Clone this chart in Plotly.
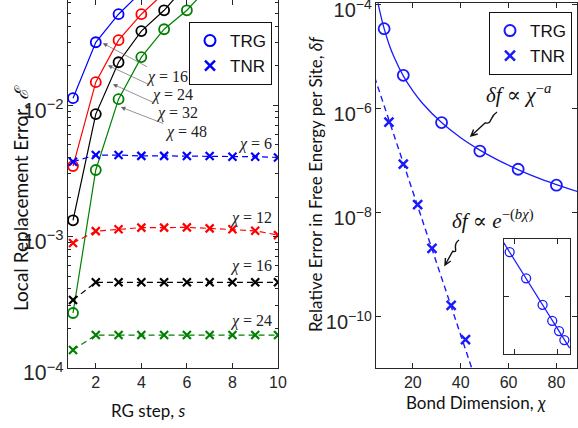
import math
import plotly.graph_objects as go

W, H = 578, 428

# ---------------- Left panel data: Local replacement error vs RG step ----------------
trg_colors = ["#0000ff", "#ff0000", "#000000", "#008000"]
trg_chi = [16, 24, 32, 48]
trg_steps = [[1, 2, 3, 4], [1, 2, 3, 4, 5], [1, 2, 3, 4, 5, 6], [1, 2, 3, 4, 5, 6, 7]]
trg_err = [
    [0.0113, 0.0301, 0.0492, 0.0727],
    [0.00344, 0.01496, 0.0312, 0.0492, 0.0713],
    [0.00133, 0.00855, 0.0212, 0.0366, 0.0527, 0.0826],
    [0.000262, 0.00321, 0.0111, 0.0232, 0.0378, 0.0527, 0.0809],
]
tnr_chi = [6, 12, 16, 24]
tnr_steps = list(range(1, 11))
tnr_err = [
    [0.00371, 0.00417, 0.00417, 0.00411, 0.00411, 0.0041, 0.0041, 0.00405, 0.00405, 0.0040],
    [0.000892, 0.0011, 0.001135, 0.00117, 0.00117, 0.001175, 0.001154, 0.001135, 0.001106, 0.001026],
    [0.000329, 0.000449, 0.000449, 0.000449, 0.000449, 0.000449, 0.000449, 0.000449, 0.000449, 0.000449],
    [0.000137, 0.000178, 0.000178, 0.000178, 0.000178, 0.000178, 0.000178, 0.000178, 0.000178, 0.000178],
]

# ---------------- Right panel data: relative free-energy error vs bond dimension ----------------
trg_bond = [8, 16, 32, 48, 64, 80]
trg_df = [3.4e-5, 4.3e-6, 5.3e-7, 1.5e-7, 6.7e-8, 3.3e-8]
trg_fit_bond = [5, 6, 8, 10, 12, 16, 20, 24, 32, 40, 48, 56, 64, 72, 80, 90, 100]
trg_fit_df = [1.38e-4, 8.0e-5, 3.4e-5, 1.73e-5, 1.0e-5, 4.2e-6, 2.16e-6, 1.25e-6, 5.3e-7,
              2.7e-7, 1.56e-7, 9.8e-8, 6.6e-8, 4.6e-8, 3.4e-8, 2.4e-8, 1.75e-8]
tnr_bond = [10, 16, 22, 28, 36, 42]
tnr_df = [5.4e-7, 8.4e-8, 1.4e-8, 2.0e-9, 1.6e-10, 3.5e-11]
tnr_fit_bond = [4, 10, 20, 30, 40, 46]
tnr_fit_df = [4.0e-6, 5.96e-7, 2.48e-8, 1.04e-9, 4.3e-11, 6.4e-12]

AX = "#262626"
TICKFONT = dict(family="Liberation Sans, Arial, sans-serif", size=16, color=AX)
TITLEFONT = dict(family="Lato, Open Sans, sans-serif", size=17, color="#111")
MATHFONT = "Liberation Serif, DejaVu Serif, serif"
BLUE2 = "#1a1aff"


def px(x):
    return x / W


def py(y):
    return 1 - y / H


fig = go.Figure()

# TRG lines (left)
for c, s, e in zip(trg_colors, trg_steps, trg_err):
    fig.add_trace(go.Scatter(x=s, y=e, mode="lines+markers", xaxis="x", yaxis="y",
                             line=dict(color=c, width=1.2),
                             marker=dict(symbol="circle-open", size=10, color=c, line=dict(width=1.8)),
                             showlegend=False))
# TNR lines (left)
for c, e in zip(trg_colors, tnr_err):
    fig.add_trace(go.Scatter(x=tnr_steps, y=e, mode="lines+markers", xaxis="x", yaxis="y",
                             line=dict(color=c, width=1.2, dash="6px,4px"),
                             marker=dict(symbol="x-thin-open", size=8, color=c, line=dict(width=2.2, color=c)),
                             showlegend=False))
# legend entries left
fig.add_trace(go.Scatter(x=[None], y=[None], mode="markers", name="TRG", xaxis="x", yaxis="y",
                         marker=dict(symbol="circle-open", size=11, color="#0000ff", line=dict(width=2)),
                         legend="legend"))
fig.add_trace(go.Scatter(x=[None], y=[None], mode="markers", name="TNR", xaxis="x", yaxis="y",
                         marker=dict(symbol="x-thin-open", size=10, color="#0000ff", line=dict(width=2.5, color="#0000ff")),
                         legend="legend"))

# Right panel
fig.add_trace(go.Scatter(x=trg_fit_bond, y=trg_fit_df, mode="lines", xaxis="x2", yaxis="y2",
                         line=dict(color=BLUE2, width=1.3, shape="spline"), showlegend=False))
fig.add_trace(go.Scatter(x=trg_bond, y=trg_df, mode="markers", xaxis="x2", yaxis="y2",
                         marker=dict(symbol="circle-open", size=11, color=BLUE2, line=dict(width=1.8)),
                         showlegend=False))
fig.add_trace(go.Scatter(x=tnr_fit_bond, y=tnr_fit_df, mode="lines", xaxis="x2", yaxis="y2",
                         line=dict(color=BLUE2, width=1.4, dash="6px,4px"), showlegend=False))
fig.add_trace(go.Scatter(x=tnr_bond, y=tnr_df, mode="markers", xaxis="x2", yaxis="y2",
                         marker=dict(symbol="x-thin-open", size=9, color=BLUE2, line=dict(width=2.5, color=BLUE2)),
                         showlegend=False))
fig.add_trace(go.Scatter(x=[None], y=[None], mode="markers", name="TRG", xaxis="x2", yaxis="y2",
                         marker=dict(symbol="circle-open", size=11, color=BLUE2, line=dict(width=2)),
                         legend="legend2"))
fig.add_trace(go.Scatter(x=[None], y=[None], mode="markers", name="TNR", xaxis="x2", yaxis="y2",
                         marker=dict(symbol="x-thin-open", size=10, color=BLUE2, line=dict(width=2.5, color=BLUE2)),
                         legend="legend2"))

# Inset (log-log of TRG)
fig.add_trace(go.Scatter(x=trg_fit_bond, y=trg_fit_df, mode="lines", xaxis="x3", yaxis="y3",
                         line=dict(color=BLUE2, width=1.2), showlegend=False))
fig.add_trace(go.Scatter(x=trg_bond, y=trg_df, mode="markers", xaxis="x3", yaxis="y3",
                         marker=dict(symbol="circle-open", size=9, color=BLUE2, line=dict(width=1.3)),
                         showlegend=False))

common = dict(showline=True, linecolor=AX, linewidth=1, mirror="ticks", ticks="inside",
              tickcolor=AX, ticklen=5, showgrid=False, zeroline=False, automargin=False,
              ticklabeloverflow="allow")
LEGFONT = dict(family="Liberation Sans, Arial", size=17, color="#111")

fig.update_layout(
    width=W, height=H, margin=dict(l=0, r=0, t=0, b=0),
    paper_bgcolor="white", plot_bgcolor="white",
    xaxis=dict(domain=[px(68), px(278)], range=[0.78, 10], tickvals=[2, 4, 6, 8, 10], anchor="y",
               tickfont=TICKFONT, **common),
    yaxis=dict(domain=[py(368), 1], type="log", range=[-4, -1.2], dtick=1, exponentformat="power",
               anchor="x", tickfont=dict(TICKFONT, size=17), ticklabelshift=5,
               minor=dict(ticks="inside", ticklen=3, tickcolor=AX, showgrid=False), **common),
    xaxis2=dict(domain=[px(376), px(577)], range=[4.6, 88.6], tickvals=[20, 40, 60, 80], anchor="y2",
                tickfont=TICKFONT, **common),
    yaxis2=dict(domain=[py(368), py(3.3)], type="log", range=[-11, -3.98], dtick=2, exponentformat="power",
                anchor="x2", tickfont=TICKFONT, ticklabelshift=6, **common),
    xaxis3=dict(domain=[px(504), px(570)], type="log", range=[0.8, 2.006], tickvals=[10, 60],
                showticklabels=False, anchor="y3", **common),
    yaxis3=dict(domain=[py(354), py(239)], type="log", range=[-7.96, -4.02], tickvals=[1e-6],
                showticklabels=False, anchor="x3", **common),
    legend=dict(x=px(189), y=py(22), xanchor="left", yanchor="top", bgcolor="white",
                bordercolor="#111", borderwidth=1, font=LEGFONT, itemwidth=30, tracegroupgap=0),
    legend2=dict(x=px(489), y=py(12), xanchor="left", yanchor="top", bgcolor="white",
                 bordercolor="#111", borderwidth=1, font=LEGFONT, itemwidth=30, tracegroupgap=0),
)

ann = []
# axis titles
ann.append(dict(text="Local Replacement Error, <span style='font-family:DejaVu Serif'><i>ℰ</i></span>",
                x=px(20), y=py(198), xref="paper", yref="paper",
                xanchor="center", yanchor="middle", textangle=-90, showarrow=False,
                font=dict(family="Lato, sans-serif", size=19, color="#111")))
ann.append(dict(text="RG step, <i>s</i>", x=px(148), y=py(410), xref="paper", yref="paper",
                xanchor="center", yanchor="middle", showarrow=False, font=TITLEFONT))
ann.append(dict(text="Relative Error in Free Energy per Site, <i>δf</i>", x=px(315), y=py(184), xref="paper",
                yref="paper", xanchor="center", yanchor="middle", textangle=-90, showarrow=False,
                font=dict(family="Lato, sans-serif", size=17, color="#111")))
ann.append(dict(text="Bond Dimension, <i>χ</i>", x=px(476), y=py(402), xref="paper", yref="paper",
                xanchor="center", yanchor="middle", showarrow=False, font=TITLEFONT))

# TRG labels with arrows (left): label text sits at the arrow tail, arrow points at the curve
trg_label_center = [(167, 77), (172, 95), (177, 113), (186, 132)]
trg_arrow_head = [(2.31, 0.0296), (2.53, 0.0201), (2.75, 0.01445), (3.1, 0.00966)]
for chi, (tx, ty), (hx, hy) in zip(trg_chi, trg_label_center, trg_arrow_head):
    hpx = 73.3 + (hx - 1) * 22.75
    hpy = 368 - (math.log10(hy) + 4) * 131.5
    ann.append(dict(text=f"<i>χ</i> = {chi}", x=hx, y=math.log10(hy), xref="x", yref="y",
                    ax=tx - hpx, ay=ty - hpy,
                    showarrow=True, arrowhead=2, arrowsize=1.3, arrowwidth=0.7, arrowcolor="#666",
                    font=dict(family=MATHFONT, size=16, color="#222")))

# TNR labels (left)
tnr_label_y = [144, 218, 266, 321]
for chi, ty in zip(tnr_chi, tnr_label_y):
    ann.append(dict(text=f"<i>χ</i> = {chi}", x=px(274), y=py(ty), xref="paper", yref="paper",
                    xanchor="right", yanchor="middle", showarrow=False,
                    font=dict(family=MATHFONT, size=16, color="#222")))

# Right panel formulas
ann.append(dict(text="<i>δf</i> ∝ <i>χ</i><sup>−<i>a</i></sup>", x=px(484), y=py(93), xref="paper", yref="paper",
                xanchor="left", yanchor="middle", showarrow=False, font=dict(family=MATHFONT, size=21, color="#111")))
ann.append(dict(text="<i>δf</i> ∝ <i>e</i><sup>−(<i>bχ</i>)</sup>", x=px(450), y=py(220), xref="paper", yref="paper",
                xanchor="left", yanchor="middle", showarrow=False, font=dict(family=MATHFONT, size=21, color="#111")))
fig.update_layout(annotations=ann)


def squiggle_arrow(x0, y0, x1, y1):
    # wavy stroke from (x0,y0) to (x1,y1) in pixel coords, with an open arrowhead at the end
    mx, my = x0 + (x1 - x0) * 0.45, y0 + (y1 - y0) * 0.45
    pts = (f"M {px(x0)},{py(y0)} "
           f"C {px(x0 - 8)},{py(y0 + 5)} {px(mx + 7)},{py(my + 2)} {px(mx)},{py(my)} "
           f"L {px(x1)},{py(y1)}")
    ang = math.atan2(y1 - my, x1 - mx)
    L = 7
    hx1 = x1 - L * math.cos(ang - 0.45)
    hy1 = y1 - L * math.sin(ang - 0.45)
    hx2 = x1 - L * math.cos(ang + 0.45)
    hy2 = y1 - L * math.sin(ang + 0.45)
    head = f" M {px(hx1)},{py(hy1)} L {px(x1)},{py(y1)} L {px(hx2)},{py(hy2)}"
    return pts + head


fig.update_layout(shapes=[
    dict(type="path", xref="paper", yref="paper", path=squiggle_arrow(497, 112, 471, 136),
         line=dict(color="#111", width=1.4)),
    dict(type="path", xref="paper", yref="paper", path=squiggle_arrow(459, 240, 445, 265),
         line=dict(color="#111", width=1.4)),
])

fig.write_html("out.html", config={"displayModeBar": False},
               post_script="document.body.style.margin='0px';document.body.style.overflow='hidden';")
